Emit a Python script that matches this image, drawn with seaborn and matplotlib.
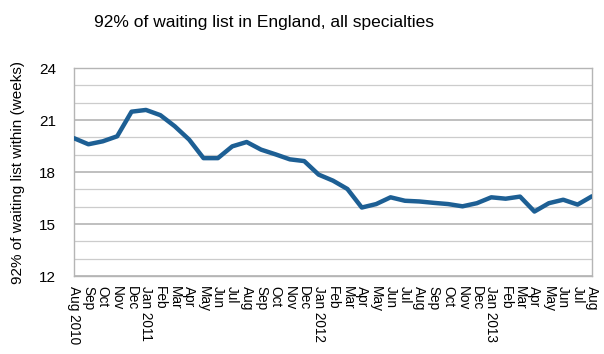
import seaborn as sns
import matplotlib
matplotlib.use('Agg')
import matplotlib.pyplot as plt
from matplotlib.ticker import MultipleLocator
import pandas as pd

# monthly values, Aug 2010 - Aug 2013
months = ['Aug 2010', 'Sep', 'Oct', 'Nov', 'Dec', 'Jan 2011', 'Feb', 'Mar', 'Apr', 'May', 'Jun', 'Jul',
          'Aug', 'Sep', 'Oct', 'Nov', 'Dec', 'Jan 2012', 'Feb', 'Mar', 'Apr', 'May', 'Jun', 'Jul',
          'Aug', 'Sep', 'Oct', 'Nov', 'Dec', 'Jan 2013', 'Feb', 'Mar', 'Apr', 'May', 'Jun', 'Jul', 'Aug']
weeks = [19.95, 19.6, 19.77, 20.06, 21.48, 21.58, 21.28, 20.64, 19.87, 18.8, 18.8, 19.48,
         19.73, 19.29, 19.02, 18.73, 18.63, 17.85, 17.5, 17.02, 15.95, 16.15, 16.54, 16.34,
         16.3, 16.22, 16.15, 16.02, 16.2, 16.54, 16.46, 16.58, 15.72, 16.2, 16.4, 16.12, 16.6]
y_ticks = [12, 15, 18, 21, 24]

df = pd.DataFrame({'idx': range(len(months)), 'weeks': weeks})

sns.set_style('white')
plt.rcParams['font.family'] = ['Liberation Sans', 'DejaVu Sans']
plt.rcParams['text.color'] = 'black'
plt.rcParams['axes.labelcolor'] = 'black'
plt.rcParams['xtick.labelcolor'] = 'black'
plt.rcParams['ytick.labelcolor'] = 'black'

fig = plt.figure(figsize=(6.04, 3.54), dpi=100)
ax = fig.add_axes([74/604, 1-276/354, (592-74)/604, (276-68)/354])

sns.lineplot(data=df, x='idx', y='weeks', ax=ax, color='#1d5f94', linewidth=3.2,
             solid_joinstyle='round', zorder=3)

ax.set_xlim(0, len(months)-1)
ax.set_ylim(12, 24)
ax.set_yticks(y_ticks)
ax.yaxis.set_minor_locator(MultipleLocator(1))
ax.grid(True, which='major', axis='y', color='#bababa', linewidth=1.3)
ax.grid(True, which='minor', axis='y', color='#cccccc', linewidth=0.9)

ax.set_xticks(range(len(months)))
ax.set_xticklabels(months, rotation=270, fontsize=9.8, va='top', ha='center')
ax.tick_params(axis='x', direction='out', length=5, width=0.8, color='#b5b5b5', pad=2)
ax.tick_params(axis='y', which='major', direction='out', length=5, width=0.8, color='#b5b5b5',
               labelsize=11, pad=8)
ax.tick_params(axis='y', which='minor', length=0)
ax.set_xlabel(None)
ax.set_ylabel('92% of waiting list within (weeks)', fontsize=11, labelpad=10)

for s in ['left', 'right', 'bottom', 'top']:
    ax.spines[s].set_visible(True)
    ax.spines[s].set_color('#b5b5b5')
    ax.spines[s].set_linewidth(1.0)

fig.text(264/604, 1-22/354, '92% of waiting list in England, all specialties',
         ha='center', va='center', fontsize=12.5)

fig.savefig('out.png', dpi=100)
